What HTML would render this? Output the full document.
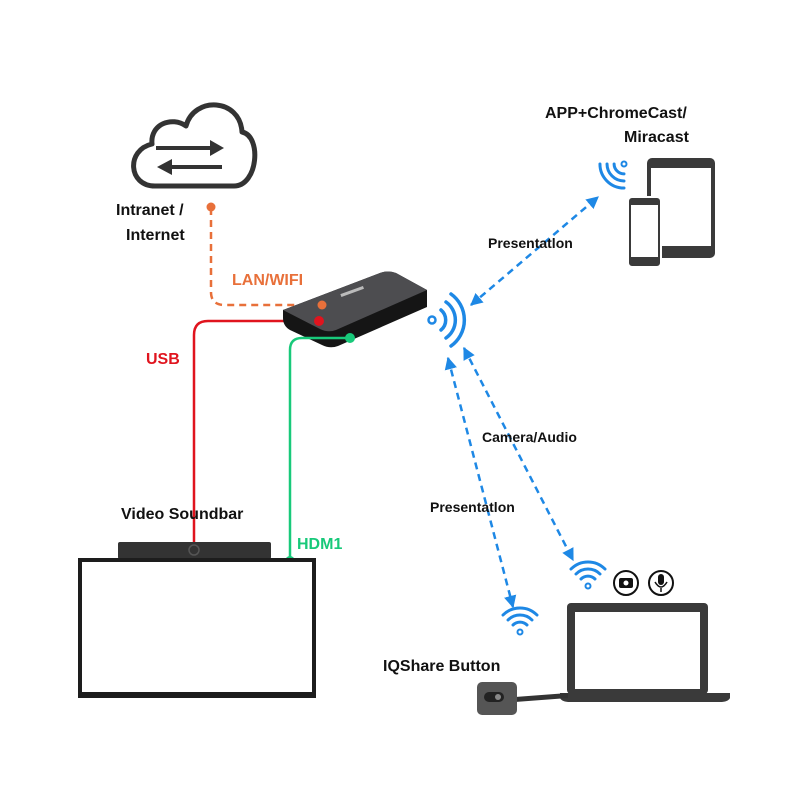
<!DOCTYPE html>
<html><head><style>
body{margin:0;background:#fff;}
svg{display:block}
text{font-family:"Liberation Sans",sans-serif;font-weight:bold;}
</style></head><body>
<svg width="800" height="800" viewBox="0 0 800 800" xmlns="http://www.w3.org/2000/svg">
<defs>
<marker id="ah" viewBox="0 0 10 10" refX="9" refY="5" markerWidth="5" markerHeight="5" orient="auto-start-reverse"><path d="M0,0L10,5L0,10z" fill="#1e88e5"/></marker>
</defs>
<!-- cloud -->
<path d="M155,186 C128,186 126,150 152,144 C150,124 172,116 186,126 C194,96 240,98 242,132 C262,136 258,186 234,186 Z" fill="none" stroke="#333" stroke-width="5" stroke-linejoin="round"/>
<line x1="156" y1="148" x2="212" y2="148" stroke="#333" stroke-width="4"/>
<path d="M210,140 L224,148 L210,156z" fill="#333"/>
<line x1="170" y1="167" x2="222" y2="167" stroke="#333" stroke-width="4"/>
<path d="M172,159 L157,167 L172,175z" fill="#333"/>
<text x="116" y="215" font-size="16" fill="#111">Intranet /</text>
<text x="126" y="240" font-size="16" fill="#111">Internet</text>
<!-- orange -->
<path d="M211,208 L211,292 Q211,305 225,305 L322,305" fill="none" stroke="#e8703a" stroke-width="2.5" stroke-dasharray="7,5"/>
<circle cx="211" cy="207" r="4.5" fill="#e8703a"/>
<text x="232" y="285" font-size="16" fill="#e8703a">LAN/WIFI</text>
<!-- red -->
<path d="M318,321 L208,321 Q194,321 194,335 L194,545" fill="none" stroke="#e0141e" stroke-width="2.5"/>
<circle cx="194" cy="547" r="5" fill="#e0141e"/>
<text x="146" y="364" font-size="16" fill="#e0141e">USB</text>
<!-- box -->
<path d="M283,310 L380,273 Q388,270 396,273 L427,290 L427,307 L338,346 Q330,349 322,345 L290,330 Q283,326 283,318Z" fill="#151515"/>
<path d="M283,310 L380,273 Q388,270 396,273 L427,290 L336,330 Q328,333 320,329Z" fill="#4d4d50"/>
<rect x="340" y="290" width="24" height="3" fill="#bbb" transform="rotate(-20 352 291)"/>
<circle cx="322" cy="305" r="4.5" fill="#e8703a"/>
<circle cx="319" cy="321" r="5" fill="#e0141e"/>
<!-- green -->
<path d="M350,338 L302,338 Q290,338 290,350 L290,560" fill="none" stroke="#18c97a" stroke-width="2.5"/>
<circle cx="350" cy="338" r="5" fill="#18c97a"/>
<circle cx="290" cy="561" r="5" fill="#18c97a"/>
<text x="297" y="549" font-size="16" fill="#18c97a">HDM1</text>
<!-- TV -->
<text x="121" y="519" font-size="16" fill="#111">Video Soundbar</text>
<rect x="118" y="542" width="153" height="17" rx="2" fill="#333"/>
<circle cx="194" cy="550" r="5" fill="none" stroke="#555" stroke-width="1.5"/>
<rect x="78" y="558" width="238" height="140" fill="#1d1d1d"/>
<rect x="82" y="562" width="230" height="130" fill="#fff"/>
<!-- wifi near box -->
<g fill="none" stroke="#1e88e5" stroke-width="3.5" stroke-linecap="round">
<circle cx="432" cy="320" r="3.5" stroke-width="2.5"/>
<path d="M441,310 A13,13 0 0 1 441,330"/>
<path d="M446,302 A22,22 0 0 1 446,338"/>
<path d="M451,294 A32,32 0 0 1 451,346"/>
</g>
<!-- arrows -->
<g stroke="#1e88e5" stroke-width="2.5" stroke-dasharray="7,5" fill="none">
<line x1="471" y1="305" x2="598" y2="197" marker-start="url(#ah)" marker-end="url(#ah)"/>
<line x1="464" y1="348" x2="573" y2="560" marker-start="url(#ah)" marker-end="url(#ah)"/>
<line x1="448" y1="358" x2="513" y2="607" marker-start="url(#ah)" marker-end="url(#ah)"/>
</g>
<text x="488" y="248" font-size="14" fill="#111">Presentatlon</text>
<text x="482" y="442" font-size="14" fill="#111">Camera/Audio</text>
<text x="430" y="512" font-size="14" fill="#111">Presentatlon</text>
<!-- wifi icons -->
<g fill="none" stroke="#1e88e5" stroke-width="3" stroke-linecap="round">
<g transform="translate(624,164) rotate(-135)"><circle cx="0" cy="0" r="2.5" stroke-width="2"/><path d="M-7,-7 A10,10 0 0 1 7,-7"/><path d="M-12,-12 A17,17 0 0 1 12,-12"/><path d="M-17,-17 A24,24 0 0 1 17,-17"/></g>
<g transform="translate(588,586)"><circle cx="0" cy="0" r="2.5" stroke-width="2"/><path d="M-7,-7 A10,10 0 0 1 7,-7"/><path d="M-12,-12 A17,17 0 0 1 12,-12"/><path d="M-17,-17 A24,24 0 0 1 17,-17"/></g>
<g transform="translate(520,632)"><circle cx="0" cy="0" r="2.5" stroke-width="2"/><path d="M-7,-7 A10,10 0 0 1 7,-7"/><path d="M-12,-12 A17,17 0 0 1 12,-12"/><path d="M-17,-17 A24,24 0 0 1 17,-17"/></g>
</g>
<!-- devices -->
<text x="545" y="118" font-size="16" fill="#111">APP+ChromeCast/</text>
<text x="624" y="142" font-size="16" fill="#111">Miracast</text>
<rect x="647" y="158" width="68" height="100" rx="5" fill="#3a3a3a"/>
<rect x="651" y="168" width="60" height="78" fill="#fff"/>
<rect x="628" y="197" width="33" height="70" rx="4" fill="#3a3a3a" stroke="#fff" stroke-width="2"/>
<rect x="631" y="205" width="27" height="52" fill="#fff"/>
<!-- laptop -->
<circle cx="626" cy="583" r="12" fill="none" stroke="#111" stroke-width="2"/>
<rect x="619" y="578" width="14" height="10" rx="2" fill="#111"/><circle cx="626" cy="583" r="2.5" fill="#fff"/>
<circle cx="661" cy="583" r="12" fill="none" stroke="#111" stroke-width="2"/>
<rect x="658" y="574" width="6" height="11" rx="3" fill="#111"/><path d="M655,582 Q661,592 667,582 M661,588 L661,592" fill="none" stroke="#111" stroke-width="1.5"/>
<rect x="567" y="603" width="141" height="91" rx="4" fill="#3a3a3a"/>
<rect x="575" y="612" width="125" height="77" fill="#fff"/>
<path d="M560,693 L730,693 L730,698 Q728,702 720,702 L570,702 Q562,702 560,698Z" fill="#3a3a3a"/>
<path d="M515,697 L568,693 L568,698 L515,702Z" fill="#333"/>
<text x="383" y="671" font-size="16" fill="#111">IQShare Button</text>
<rect x="477" y="682" width="40" height="33" rx="5" fill="#555"/>
<rect x="484" y="692" width="20" height="10" rx="5" fill="#222"/>
<circle cx="498" cy="697" r="3" fill="#888"/>
</svg>
</body></html>
